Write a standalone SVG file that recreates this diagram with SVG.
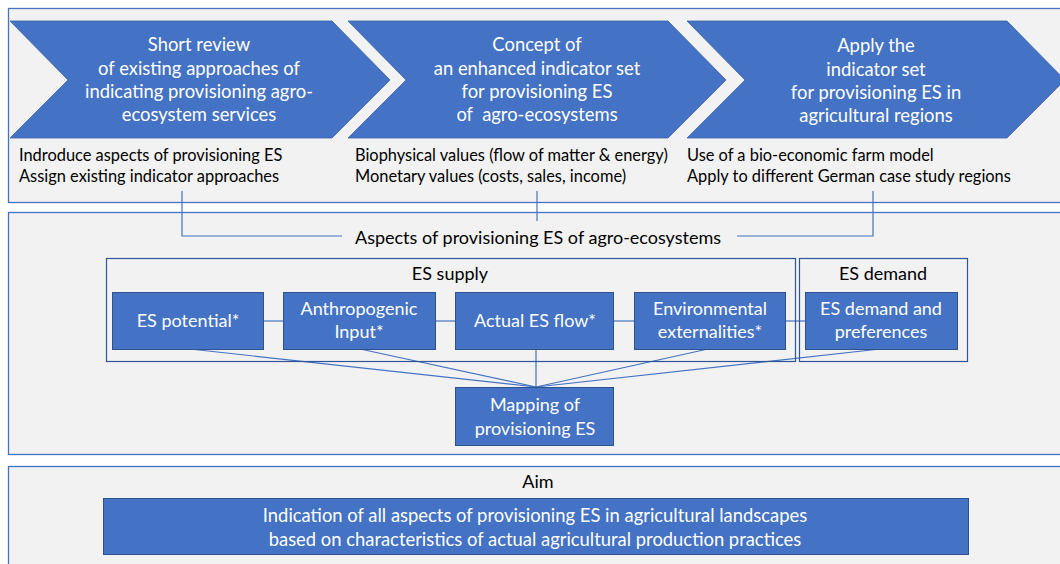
<svg xmlns="http://www.w3.org/2000/svg" width="1060" height="564" viewBox="0 0 1060 564">
<style>
.panel{fill:#F2F2F2;stroke:#4472C4;stroke-width:1.3}
.chev{fill:#4472C4;stroke:#3A62A8;stroke-width:0.8}
.box{fill:#4472C4;stroke:#2F528F;stroke-width:1}
.grp{fill:none;stroke:#2F5597;stroke-width:1.2}
.ln{fill:none;stroke:#4472C4;stroke-width:1.2}
text{font-family:Lato,"Open Sans","DejaVu Sans",sans-serif}
.w{fill:#FFFFFF;font-size:18.4px;text-anchor:middle}
.wb{fill:#FFFFFF;font-size:18px;text-anchor:middle}
.b{fill:#000000;font-size:16.4px}
.bc{fill:#000000;font-size:18px;text-anchor:middle}
</style>
<rect width="1060" height="564" fill="#FFFFFF"/>
<rect class="panel" x="8.5" y="8.5" width="1060" height="194"/>
<rect class="panel" x="8.5" y="212.5" width="1060" height="242"/>
<rect class="panel" x="8.5" y="466.5" width="1060" height="110"/>

<g id="connectors">
<polyline class="ln" points="182,191 182,236 342,236"/>
<line class="ln" x1="537" y1="191" x2="537" y2="221"/>
<polyline class="ln" points="873,191 873,236 737,236"/>
<line class="ln" x1="264" y1="321" x2="284" y2="321"/>
<line class="ln" x1="435" y1="321" x2="456" y2="321"/>
<line class="ln" x1="613" y1="321" x2="634" y2="321"/>
<line class="ln" x1="785" y1="321" x2="806" y2="321"/>
<line class="ln" x1="190" y1="349" x2="536" y2="387"/>
<line class="ln" x1="360" y1="349" x2="536" y2="387"/>
<line class="ln" x1="536" y1="349" x2="536" y2="387"/>
<line class="ln" x1="708" y1="349" x2="536" y2="387"/>
<line class="ln" x1="880" y1="349" x2="536" y2="387"/>
</g>

<g id="step1">
<polygon class="chev" points="10,21 332,21 390,80 332,138 10,138 68,80"/>
<text class="w" x="199" y="51">Short review</text>
<text class="w" x="199" y="75">of existing approaches of</text>
<text class="w" x="199" y="98">indicating provisioning agro-</text>
<text class="w" x="199" y="121">ecosystem services</text>
<text class="b" x="19" y="161">Indroduce aspects of provisioning ES</text>
<text class="b" x="19" y="182">Assign existing indicator approaches</text>
</g>
<g id="step2">
<polygon class="chev" points="348,21 668,21 726,80 668,138 348,138 406,80"/>
<text class="w" x="537" y="51">Concept of</text>
<text class="w" x="537" y="75">an enhanced indicator set</text>
<text class="w" x="537" y="98">for provisioning ES</text>
<text class="w" x="537" y="121" xml:space="preserve">of  agro-ecosystems</text>
<text class="b" x="355" y="161">Biophysical values (flow of matter &amp; energy)</text>
<text class="b" x="355" y="182">Monetary values (costs, sales, income)</text>
</g>
<g id="step3">
<polygon class="chev" points="687,21 1007,21 1065,80 1007,138 687,138 745,80"/>
<text class="w" x="876" y="52">Apply the</text>
<text class="w" x="876" y="76">indicator set</text>
<text class="w" x="876" y="99">for provisioning ES in</text>
<text class="w" x="876" y="122">agricultural regions</text>
<text class="b" x="687" y="161">Use of a bio-economic farm model</text>
<text class="b" x="687" y="182">Apply to different German case study regions</text>
</g>

<g id="aspects">
<text class="bc" x="538" y="244">Aspects of provisioning ES of agro-ecosystems</text>
</g>
<g id="es-supply">
<rect class="grp" x="106.5" y="258.5" width="689" height="103"/>
<text class="bc" x="450" y="280">ES supply</text>
</g>
<g id="es-demand">
<rect class="grp" x="799.5" y="258.5" width="168" height="103"/>
<text class="bc" x="883" y="280">ES demand</text>
</g>
<g id="es-potential">
<rect class="box" x="112.5" y="292.5" width="151" height="57"/>
<text class="wb" x="188" y="327">ES potential*</text>
</g>
<g id="anthropogenic-input">
<rect class="box" x="283.5" y="292.5" width="152" height="57"/>
<text class="wb" x="359" y="315">Anthropogenic</text>
<text class="wb" x="359" y="338">Input*</text>
</g>
<g id="actual-es-flow">
<rect class="box" x="455.5" y="292.5" width="158" height="57"/>
<text class="wb" x="535" y="327">Actual ES flow*</text>
</g>
<g id="environmental-externalities">
<rect class="box" x="634.5" y="292.5" width="151" height="57"/>
<text class="wb" x="710" y="315">Environmental</text>
<text class="wb" x="710" y="338">externalities*</text>
</g>
<g id="es-demand-preferences">
<rect class="box" x="805.5" y="292.5" width="152" height="57"/>
<text class="wb" x="881" y="315">ES demand and</text>
<text class="wb" x="881" y="338">preferences</text>
</g>
<g id="mapping">
<rect class="box" x="455.5" y="387.5" width="158" height="58"/>
<text class="wb" x="535" y="411">Mapping of</text>
<text class="wb" x="535" y="435">provisioning ES</text>
</g>

<g id="aim-label">
<text class="bc" x="538" y="488">Aim</text>
</g>
<g id="aim">
<rect class="box" x="103.5" y="498.5" width="865" height="56"/>
<text class="w" x="535" y="522">Indication of all aspects of provisioning ES in agricultural landscapes</text>
<text class="w" x="535" y="546">based on characteristics of actual agricultural production practices</text>
</g>
</svg>
